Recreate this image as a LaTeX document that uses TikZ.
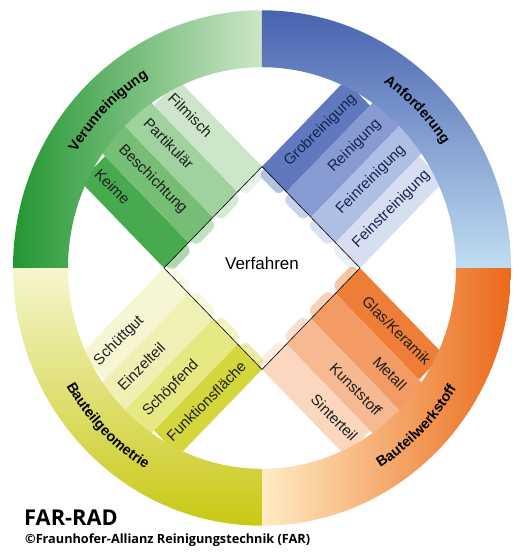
\documentclass[tikz,border=0pt]{standalone}
\usepackage{fontspec}
\setmainfont{Liberation Sans}
\newfontfamily\farfont{Open Sans}
\usetikzlibrary{decorations.text}

\definecolor{gDark}{RGB}{35,150,50}
\definecolor{gLight}{RGB}{205,230,200}
\definecolor{gA}{RGB}{72,170,78}
\definecolor{gB}{RGB}{118,190,118}
\definecolor{gC}{RGB}{160,210,158}
\definecolor{gD}{RGB}{205,230,202}
\definecolor{bDark}{RGB}{72,98,175}
\definecolor{bLight}{RGB}{192,222,242}
\definecolor{bA}{RGB}{95,120,190}
\definecolor{bB}{RGB}{135,155,210}
\definecolor{bC}{RGB}{175,190,228}
\definecolor{bD}{RGB}{215,222,242}
\definecolor{oPale}{RGB}{255,236,196}
\definecolor{oDark}{RGB}{235,105,25}
\definecolor{oA}{RGB}{238,125,55}
\definecolor{oB}{RGB}{242,155,100}
\definecolor{oC}{RGB}{246,185,145}
\definecolor{oD}{RGB}{250,215,190}
\definecolor{yPale}{RGB}{246,246,208}
\definecolor{yDark}{RGB}{200,200,20}
\definecolor{yA}{RGB}{212,215,60}
\definecolor{yB}{RGB}{230,232,130}
\definecolor{yC}{RGB}{240,240,180}
\definecolor{yD}{RGB}{246,246,212}
\definecolor{navy}{RGB}{25,35,80}
\definecolor{dunkel}{RGB}{30,30,30}

\newcommand{\ringfont}{\fontsize{14.3}{16}\selectfont\bfseries}

\tikzset{
  lbl/.style={font=\fontsize{15}{17}\selectfont, text=dunkel, inner sep=0pt,
    text height=11pt, text depth=3pt},
  beule/.style={opacity=0.45, rounded corners=6pt},
  ringtext/.style={decorate, decoration={text along path, text align=center,
    text={|\ringfont|#1}}},
}

\begin{document}
\begin{tikzpicture}[x=1pt, y=1pt]
% 画布
\useasboundingbox (-262,-290) rectangle (262,268);
\fill[white] (-262,-290) rectangle (262,268);
\begin{scope}[yscale=1.035]
% 绿色：Verunreinigung
\begin{scope}[shift={(-98,0)}, rotate=45]
\fill[gA, beule] (3,-8) rectangle (31.6,6);
\fill[gB, beule] (37.6,-8) rectangle (66.3,6);
\fill[gC, beule] (72.3,-8) rectangle (100.9,6);
\fill[gD, beule] (106.9,-8) rectangle (135.6,6);
\fill[gA] (0,0) rectangle (34.65,118);
\fill[gB] (34.65,0) rectangle (69.3,130);
\fill[gC] (69.3,0) rectangle (103.95,130);
\fill[gD] (103.95,0) rectangle (138.6,118);
\node[lbl, rotate=-45, anchor=west] (keime) at (17.3,113) {Keime};
\node[lbl, rotate=-45, anchor=west] (beschichtung) at (52,113) {Beschichtung};
\node[lbl, rotate=-45, anchor=west] (partikulaer) at (86.6,113) {Partikulär};
\node[lbl, rotate=-45, anchor=west] (filmisch) at (121.3,113) {Filmisch};
\end{scope}
% 蓝色：Anforderung
\begin{scope}[shift={(0,98)}, rotate=-45]
\fill[bA, beule] (3,-8) rectangle (31.6,6);
\fill[bB, beule] (37.6,-8) rectangle (66.3,6);
\fill[bC, beule] (72.3,-8) rectangle (100.9,6);
\fill[bD, beule] (106.9,-8) rectangle (135.6,6);
\fill[bA] (0,0) rectangle (34.65,118);
\fill[bB] (34.65,0) rectangle (69.3,130);
\fill[bC] (69.3,0) rectangle (103.95,130);
\fill[bD] (103.95,0) rectangle (138.6,118);
\node[lbl, text=navy, rotate=45, anchor=east] (grob) at (17.3,113) {Grobreinigung};
\node[lbl, text=navy, rotate=45, anchor=east] (rein) at (52,113) {Reinigung};
\node[lbl, text=navy, rotate=45, anchor=east] (fein) at (86.6,113) {Feinreinigung};
\node[lbl, text=navy, rotate=45, anchor=east] (feinst) at (121.3,113) {Feinstreinigung};
\end{scope}
% 橙色：Bauteilwerkstoff
\begin{scope}[shift={(98,0)}, rotate=-135]
\fill[oA, beule] (3,-8) rectangle (31.6,6);
\fill[oB, beule] (37.6,-8) rectangle (66.3,6);
\fill[oC, beule] (72.3,-8) rectangle (100.9,6);
\fill[oD, beule] (106.9,-8) rectangle (135.6,6);
\fill[oA] (0,0) rectangle (34.65,118);
\fill[oB] (34.65,0) rectangle (69.3,130);
\fill[oC] (69.3,0) rectangle (103.95,130);
\fill[oD] (103.95,0) rectangle (138.6,118);
\node[lbl, rotate=-45, anchor=east] (glas) at (17.3,113) {Glas/Keramik};
\node[lbl, rotate=-45, anchor=east] (metall) at (52,113) {Metall};
\node[lbl, rotate=-45, anchor=east] (kunststoff) at (86.6,113) {Kunststoff};
\node[lbl, rotate=-45, anchor=east] (sinterteil) at (121.3,113) {Sinterteil};
\end{scope}
% 黄色：Bauteilgeometrie
\begin{scope}[shift={(0,-98)}, rotate=135]
\fill[yA, beule] (3,-8) rectangle (31.6,6);
\fill[yB, beule] (37.6,-8) rectangle (66.3,6);
\fill[yC, beule] (72.3,-8) rectangle (100.9,6);
\fill[yD, beule] (106.9,-8) rectangle (135.6,6);
\fill[yA] (0,0) rectangle (34.65,118);
\fill[yB] (34.65,0) rectangle (69.3,130);
\fill[yC] (69.3,0) rectangle (103.95,130);
\fill[yD] (103.95,0) rectangle (138.6,118);
\node[lbl, rotate=45, anchor=west] (funktion) at (17.3,113) {Funktionsfläche};
\node[lbl, rotate=45, anchor=west] (schoepfend) at (52,113) {Schöpfend};
\node[lbl, rotate=45, anchor=west] (einzelteil) at (86.6,113) {Einzelteil};
\node[lbl, rotate=45, anchor=west] (schuettgut) at (121.3,113) {Schüttgut};
\end{scope}
% 外环
\shade[left color=gDark, right color=gLight] (180:249) arc[start angle=180, end angle=90, radius=249]
  -- (90:194) arc[start angle=90, end angle=180, radius=194] -- cycle;
\shade[top color=bDark, bottom color=bLight] (90:249) arc[start angle=90, end angle=0, radius=249]
  -- (0:194) arc[start angle=0, end angle=90, radius=194] -- cycle;
\shade[left color=oPale, right color=oDark] (0:249) arc[start angle=0, end angle=-90, radius=249]
  -- (-90:194) arc[start angle=-90, end angle=0, radius=194] -- cycle;
\shade[top color=yPale, bottom color=yDark] (-90:249) arc[start angle=-90, end angle=-180, radius=249]
  -- (-180:194) arc[start angle=-180, end angle=-90, radius=194] -- cycle;
% 中间菱形
\coordinate (L) at (-98,0);
\coordinate (T) at (0,98);
\coordinate (R) at (98,0);
\coordinate (B) at (0,-98);
\draw[line width=0.6pt] (L) -- (T) -- (R) -- (B) -- cycle;
\end{scope}
\node[font=\fontsize{17}{20}\selectfont] (verfahren) at (0,5) {Verfahren};
% 环上文字
\path[ringtext=Verunreinigung] (175:216.5 and 224.1) arc[start angle=175, end angle=95, x radius=216.5, y radius=224.1];
\path[ringtext=Anforderung] (85:216.5 and 224.1) arc[start angle=85, end angle=5, x radius=216.5, y radius=224.1];
\path[ringtext=Bauteilwerkstoff] (-85:226.5 and 234.4) arc[start angle=-85, end angle=-5, x radius=226.5, y radius=234.4];
\path[ringtext=Bauteilgeometrie] (185:226.5 and 234.4) arc[start angle=185, end angle=265, x radius=226.5, y radius=234.4];
% 版权
\node[anchor=base west, inner sep=0pt, font=\farfont\bfseries\fontsize{21.8}{24}\selectfont] (farrad) at (-238,-257) {FAR-RAD};
\node[anchor=base west, inner sep=0pt, font=\farfont\bfseries\fontsize{12.7}{14}\selectfont] (copyright) at (-237,-275.3) {©Fraunhofer-Allianz Reinigungstechnik (FAR)};
\end{tikzpicture}
\end{document}
